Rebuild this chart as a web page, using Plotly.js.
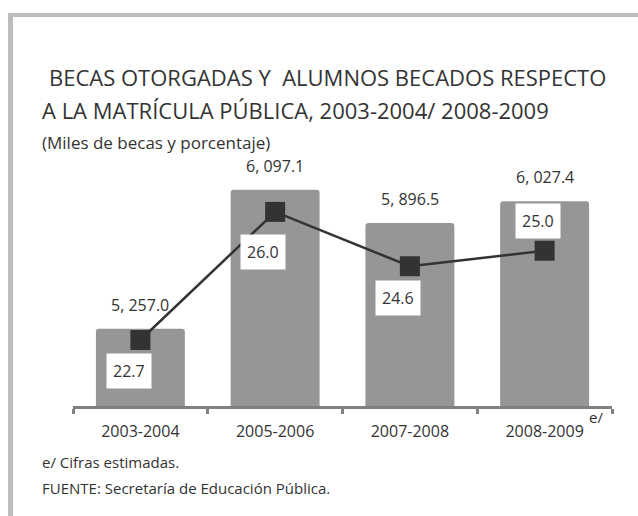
<!DOCTYPE html>
<html>
<head>
<meta charset="utf-8">
<script src="https://cdn.plot.ly/plotly-3.0.1.min.js"></script>
<style>
  html, body { margin: 0; padding: 0; background: #fff; }
  #gd { width: 638px; height: 516px; }
</style>
</head>
<body>
<div id="gd"></div>
<script>
"use strict";

/* data */
var ciclos = ["2003-2004", "2005-2006", "2007-2008", "2008-2009"];
var becas = [5257.0, 6097.1, 5896.5, 6027.4];          // miles de becas
var becasTxt = ["5, 257.0", "6, 097.1", "5, 896.5", "6, 027.4"];
var porcentaje = [22.7, 26.0, 24.6, 25.0];             // % de la matricula
var pctTxt = ["22.7", "26.0", "24.6", "25.0"];
/* label offsets for the percentage boxes (px) */
var pctShiftX = [-11, -12, -12, -7];
var pctShiftY = [-31, -40, -32, 30];

/* plot box in pixels */
var W = 638, H = 516;
var mL = 73, mR = 26, mT = 130, mB = 110;
var font = "'Open Sans', 'Noto Sans', sans-serif";
var ink = "#333333";
var frame = "#bdbdbd";

function px(x) { return (x - mL) / (W - mL - mR); }
function py(y) { return (H - mB - y) / (H - mT - mB); }

function main()
{
	var gd = document.getElementById("gd");

	var barData = {
		x: ciclos,
		y: becas,
		type: 'bar',
		marker: { color: '#969696', cornerradius: 3 },
		hoverinfo: 'none'
	};

	var lineData = {
		x: ciclos,
		y: porcentaje,
		type: 'scatter',
		mode: 'lines+markers',
		yaxis: 'y2',
		line: { color: '#333333', width: 2.5 },
		marker: { symbol: 'square', size: 20, color: '#333333' },
		hoverinfo: 'none'
	};

	var ann = [];

	/* bar values */
	for (var i = 0; i < ciclos.length; i++) {
		ann.push({
			x: ciclos[i], y: becas[i], xref: 'x', yref: 'y',
			text: becasTxt[i], showarrow: false,
			yanchor: 'bottom', yshift: 11,
			font: { family: font, size: 16, color: ink }
		});
	}

	/* percentage boxes */
	for (var j = 0; j < ciclos.length; j++) {
		ann.push({
			x: ciclos[j], y: porcentaje[j], xref: 'x', yref: 'y2',
			text: pctTxt[j], showarrow: false,
			xshift: pctShiftX[j], yshift: pctShiftY[j],
			bgcolor: '#ffffff', borderpad: 6,
			font: { family: font, size: 16, color: ink }
		});
	}

	/* titles and notes */
	function note(txt, x, y, size) {
		ann.push({
			xref: 'paper', yref: 'paper', x: px(x), y: py(y),
			xanchor: 'left', yanchor: 'middle', showarrow: false,
			text: txt, font: { family: font, size: size, color: ink }
		});
	}
	note("BECAS OTORGADAS Y&nbsp;&nbsp;ALUMNOS BECADOS RESPECTO", 47, 77, 22);
	note("A LA MATRÍCULA PÚBLICA, 2003-2004/ 2008-2009", 40, 110, 22);
	note("(Miles de becas y porcentaje)", 40, 142, 17);
	note("e/", 587, 417, 15);
	note("e/ Cifras estimadas.", 40, 462, 15);
	note("FUENTE: Secretaría de Educación Pública.", 40, 488, 15);

	var layout = {
		width: W,
		height: H,
		margin: { l: mL, r: mR, t: mT, b: mB, pad: 0 },
		paper_bgcolor: '#ffffff',
		plot_bgcolor: '#ffffff',
		showlegend: false,
		bargap: 0.34,
		xaxis: {
			type: 'category',
			showline: true,
			linecolor: '#808080',
			linewidth: 3,
			ticks: 'outside',
			tickson: 'boundaries',
			ticklen: 5,
			tickwidth: 3,
			tickcolor: '#808080',
			ticklabelstandoff: 9,
			showgrid: false,
			tickfont: { family: font, size: 16, color: ink },
			fixedrange: true
		},
		yaxis: {
			range: [4790, 6458],
			visible: false,
			fixedrange: true
		},
		yaxis2: {
			range: [21.0, 28.11],
			overlaying: 'y',
			side: 'right',
			visible: false,
			fixedrange: true
		},
		annotations: ann,
		shapes: [
			/* grey frame, top and left */
			{ type: 'rect', xref: 'paper', yref: 'paper', layer: 'below',
			  x0: px(8), x1: px(638), y0: py(17), y1: py(13),
			  line: { width: 0 }, fillcolor: frame },
			{ type: 'rect', xref: 'paper', yref: 'paper', layer: 'below',
			  x0: px(8), x1: px(13), y0: py(516), y1: py(13),
			  line: { width: 0 }, fillcolor: frame }
		]
	};

	Plotly.newPlot(gd, [barData, lineData], layout, { displayModeBar: false, staticPlot: true });
}

main();
</script>
</body>
</html>
